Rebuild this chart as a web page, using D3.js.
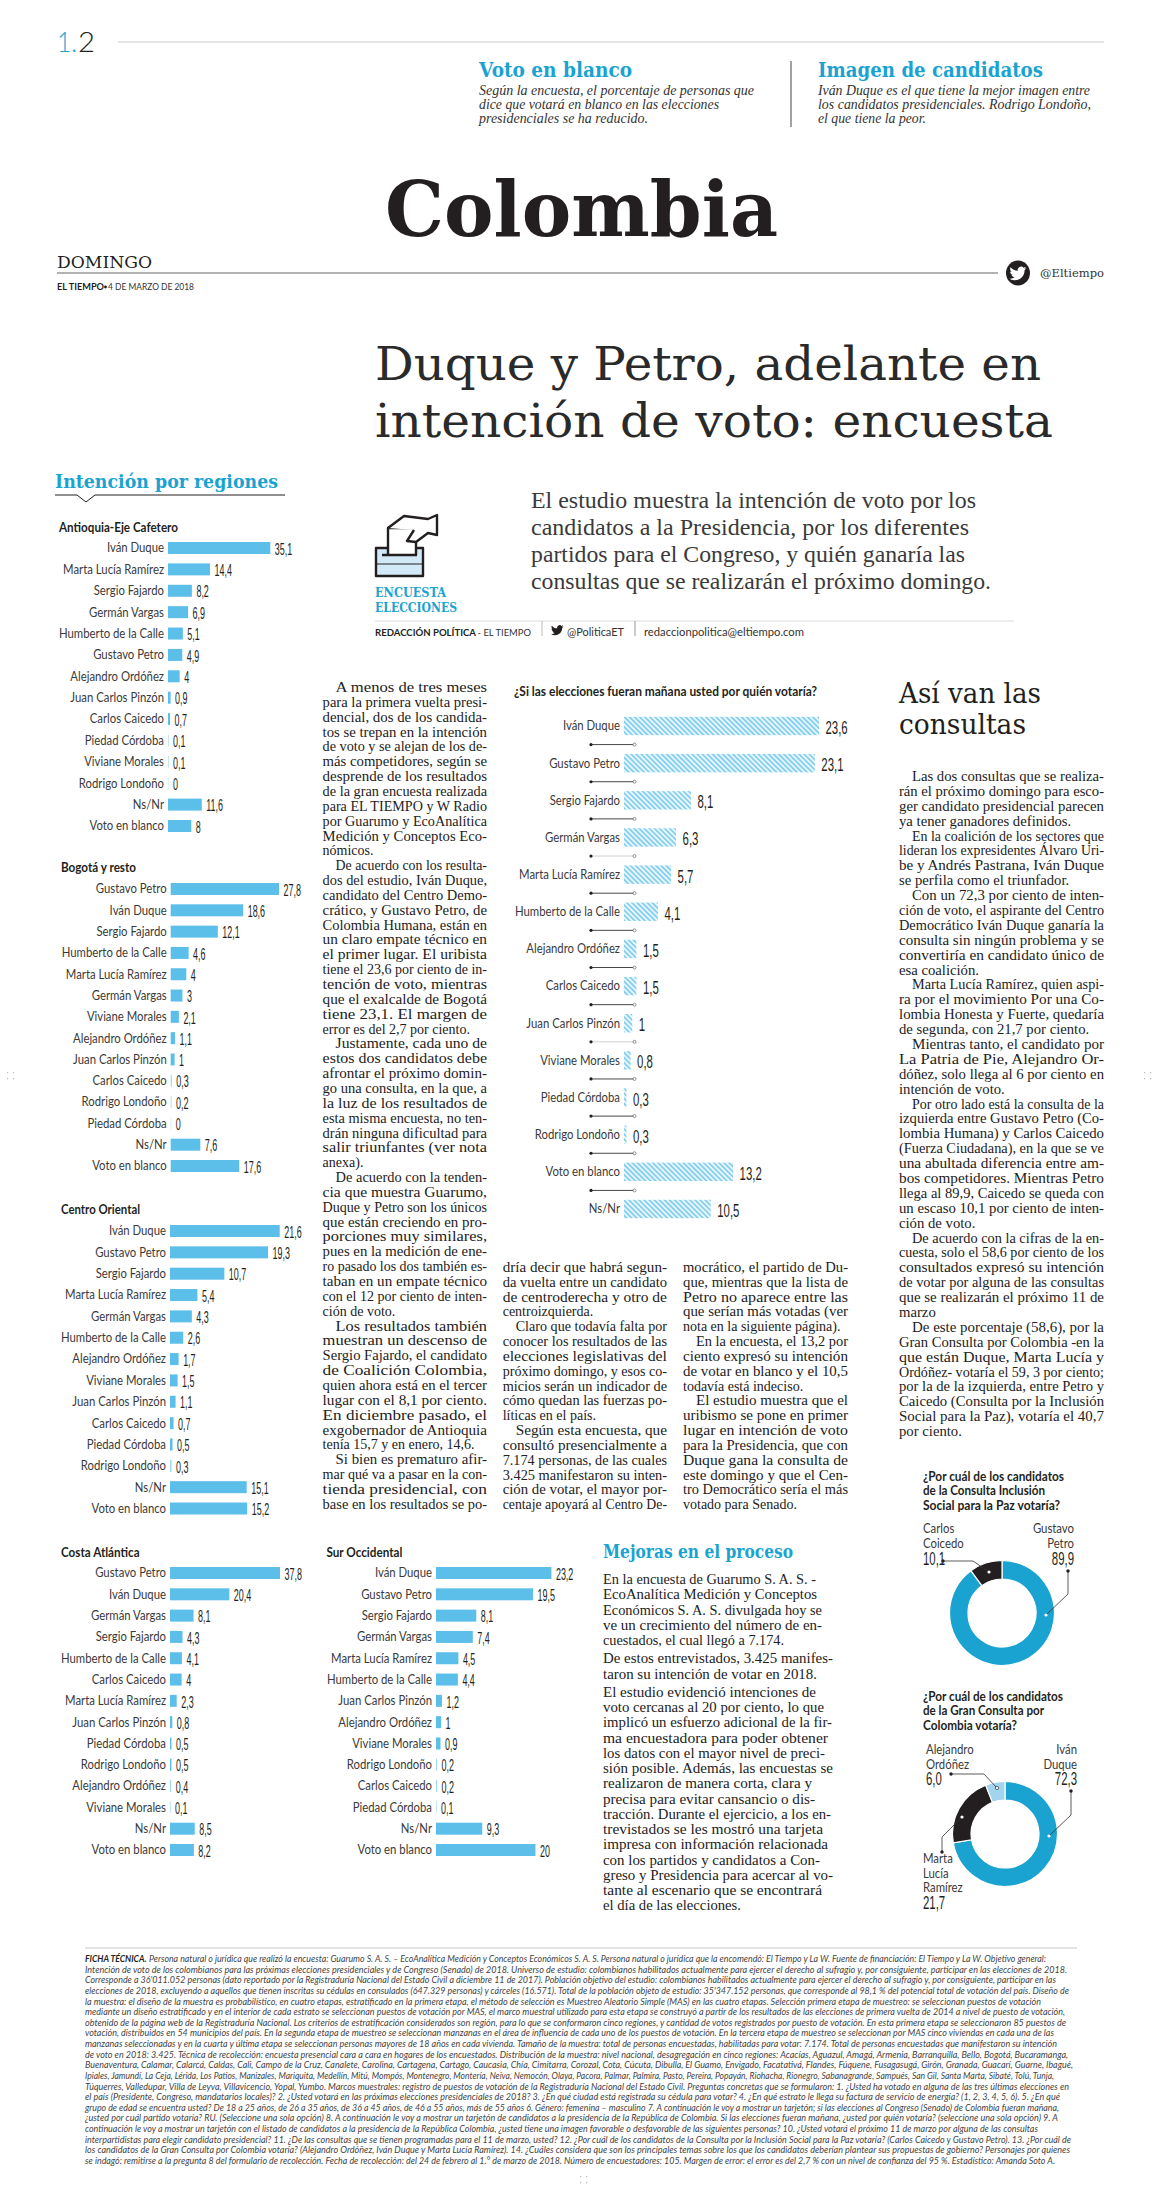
<!DOCTYPE html>
<html lang="es"><head><meta charset="utf-8"><title>Colombia</title>
<script src="https://cdn.jsdelivr.net/npm/d3@7/dist/d3.min.js"></script>
<style>html,body{margin:0;padding:0;background:#fff}svg{display:block}</style>
</head><body><div id="page"></div>
<script>
// ---------- DATA ----------
const antioquiaNames=["Iván Duque","Marta Lucía Ramírez","Sergio Fajardo","Germán Vargas","Humberto de la Calle","Gustavo Petro","Alejandro Ordóñez","Juan Carlos Pinzón","Carlos Caicedo","Piedad Córdoba","Viviane Morales","Rodrigo Londoño","Ns/Nr","Voto en blanco"];
const antioquiaValues=[35.1,14.4,8.2,6.9,5.1,4.9,4,0.9,0.7,0.1,0.1,0,11.6,8];
const bogotaNames=["Gustavo Petro","Iván Duque","Sergio Fajardo","Humberto de la Calle","Marta Lucía Ramírez","Germán Vargas","Viviane Morales","Alejandro Ordóñez","Juan Carlos Pinzón","Carlos Caicedo","Rodrigo Londoño","Piedad Córdoba","Ns/Nr","Voto en blanco"];
const bogotaValues=[27.8,18.6,12.1,4.6,4,3,2.1,1.1,1,0.3,0.2,0,7.6,17.6];
const orientalNames=["Iván Duque","Gustavo Petro","Sergio Fajardo","Marta Lucía Ramírez","Germán Vargas","Humberto de la Calle","Alejandro Ordóñez","Viviane Morales","Juan Carlos Pinzón","Carlos Caicedo","Piedad Córdoba","Rodrigo Londoño","Ns/Nr","Voto en blanco"];
const orientalValues=[21.6,19.3,10.7,5.4,4.3,2.6,1.7,1.5,1.1,0.7,0.5,0.3,15.1,15.2];
const costaNames=["Gustavo Petro","Iván Duque","Germán Vargas","Sergio Fajardo","Humberto de la Calle","Carlos Caicedo","Marta Lucía Ramírez","Juan Carlos Pinzón","Piedad Córdoba","Rodrigo Londoño","Alejandro Ordóñez","Viviane Morales","Ns/Nr","Voto en blanco"];
const costaValues=[37.8,20.4,8.1,4.3,4.1,4,2.3,0.8,0.5,0.5,0.4,0.1,8.5,8.2];
const surNames=["Iván Duque","Gustavo Petro","Sergio Fajardo","Germán Vargas","Marta Lucía Ramírez","Humberto de la Calle","Juan Carlos Pinzón","Alejandro Ordóñez","Viviane Morales","Rodrigo Londoño","Carlos Caicedo","Piedad Córdoba","Ns/Nr","Voto en blanco"];
const surValues=[23.2,19.5,8.1,7.4,4.5,4.4,1.2,1,0.9,0.2,0.2,0.1,9.3,20];
const nationalNames=["Iván Duque","Gustavo Petro","Sergio Fajardo","Germán Vargas","Marta Lucía Ramírez","Humberto de la Calle","Alejandro Ordóñez","Carlos Caicedo","Juan Carlos Pinzón","Viviane Morales","Piedad Córdoba","Rodrigo Londoño","Voto en blanco","Ns/Nr"];
const nationalValues=[23.6,23.1,8.1,6.3,5.7,4.1,1.5,1.5,1,0.8,0.3,0.3,13.2,10.5];
const inclusionNames=["Gustavo Petro","Carlos Caicedo"];
const inclusionValues=[89.9,10.1];
const granConsultaNames=["Iván Duque","Marta Lucía Ramírez","Alejandro Ordóñez"];
const granConsultaValues=[72.3,21.7,6.0];

const columnOne=["\tA menos de tres meses","para la primera vuelta presi-","dencial, dos de los candida-","tos se trepan en la intención","de voto y se alejan de los de-","más competidores, según se","desprende de los resultados","de la gran encuesta realizada","para EL TIEMPO y W Radio","por Guarumo y EcoAnalítica","Medición y Conceptos Eco-","nómicos.\n",
"\tDe acuerdo con los resulta-","dos del estudio, Iván Duque,","candidato del Centro Demo-","crático, y Gustavo Petro, de","Colombia Humana, están en","un claro empate técnico en","el primer lugar. El uribista","tiene el 23,6 por ciento de in-","tención de voto, mientras","que el exalcalde de Bogotá","tiene 23,1. El margen de","error es del 2,7 por ciento.\n",
"\tJustamente, cada uno de","estos dos candidatos debe","afrontar el próximo domin-","go una consulta, en la que, a","la luz de los resultados de","esta misma encuesta, no ten-","drán ninguna dificultad para","salir triunfantes (ver nota","anexa).\n",
"\tDe acuerdo con la tenden-","cia que muestra Guarumo,","Duque y Petro son los únicos","que están creciendo en pro-","porciones muy similares,","pues en la medición de ene-","ro pasado los dos también es-","taban en un empate técnico","con el 12 por ciento de inten-","ción de voto.\n",
"\tLos resultados también","muestran un descenso de","Sergio Fajardo, el candidato","de Coalición Colombia,","quien ahora está en el tercer","lugar con el 8,1 por ciento.","En diciembre pasado, el","exgobernador de Antioquia","tenía 15,7 y en enero, 14,6.\n",
"\tSi bien es prematuro afir-","mar qué va a pasar en la con-","tienda presidencial, con","base en los resultados se po-"];
const columnTwo=["dría decir que habrá segun-","da vuelta entre un candidato","de centroderecha y otro de","centroizquierda.\n","\tClaro que todavía falta por","conocer los resultados de las","elecciones legislativas del","próximo domingo, y esos co-","micios serán un indicador de","cómo quedan las fuerzas po-","líticas en el país.\n","\tSegún esta encuesta, que","consultó presencialmente a","7.174 personas, de las cuales","3.425 manifestaron su inten-","ción de votar, el mayor por-","centaje apoyará al Centro De-"];
const columnThree=["mocrático, el partido de Du-","que, mientras que la lista de","Petro no aparece entre las","que serían más votadas (ver","nota en la siguiente página).\n","\tEn la encuesta, el 13,2 por","ciento expresó su intención","de votar en blanco y el 10,5","todavía está indeciso.\n","\tEl estudio muestra que el","uribismo se pone en primer","lugar en intención de voto","para la Presidencia, que con","Duque gana la consulta de","este domingo y que el Cen-","tro Democrático sería el más","votado para Senado.\n"];
const consultasText=["\tLas dos consultas que se realiza-","rán el próximo domingo para esco-","ger candidato presidencial parecen","ya tener ganadores definidos.\n","\tEn la coalición de los sectores que","lideran los expresidentes Álvaro Uri-","be y Andrés Pastrana, Iván Duque","se perfila como el triunfador.\n","\tCon un 72,3 por ciento de inten-","ción de voto, el aspirante del Centro","Democrático Iván Duque ganaría la","consulta sin ningún problema y se","convertiría en candidato único de","esa coalición.\n","\tMarta Lucía Ramírez, quien aspi-","ra por el movimiento Por una Co-","lombia Honesta y Fuerte, quedaría","de segunda, con 21,7 por ciento.\n","\tMientras tanto, el candidato por","La Patria de Pie, Alejandro Or-","dóñez, solo llega al 6 por ciento en","intención de voto.\n","\tPor otro lado está la consulta de la","izquierda entre Gustavo Petro (Co-","lombia Humana) y Carlos Caicedo","(Fuerza Ciudadana), en la que se ve","una abultada diferencia entre am-","bos competidores. Mientras Petro","llega al 89,9, Caicedo se queda con","un escaso 10,1 por ciento de inten-","ción de voto.\n","\tDe acuerdo con la cifras de la en-","cuesta, solo el 58,6 por ciento de los","consultados expresó su intención","de votar por alguna de las consultas","que se realizarán el próximo 11 de","marzo\n","\tDe este porcentaje (58,6), por la","Gran Consulta por Colombia -en la","que están Duque, Marta Lucía y","Ordóñez- votaría el 59, 3 por ciento;","por la de la izquierda, entre Petro y","Caicedo (Consulta por la Inclusión","Social para la Paz), votaría el 40,7","por ciento.\n"];
const mejorasText=["En la encuesta de Guarumo S. A. S. -","EcoAnalítica Medición y Conceptos","Económicos S. A. S. divulgada hoy se","ve un crecimiento del número de en-","cuestados, el cual llegó a 7.174.","De estos entrevistados, 3.425 manifes-","taron su intención de votar en 2018.","El estudio evidenció intenciones de","voto cercanas al 20 por ciento, lo que","implicó un esfuerzo adicional de la fir-","ma encuestadora para poder obtener","los datos con el mayor nivel de preci-","sión posible. Además, las encuestas se","realizaron de manera corta, clara y","precisa para evitar cansancio o dis-","tracción. Durante el ejercicio, a los en-","trevistados se les mostró una tarjeta","impresa con información relacionada","con los partidos y candidatos a Con-","greso y Presidencia para acercar al vo-","tante al escenario que se encontrará","el día de las elecciones."];
const fichaText=["Persona natural o jurídica que realizó la encuesta: Guarumo S. A. S. – EcoAnalítica Medición y Conceptos Económicos S. A. S. Persona natural o jurídica que la encomendó: El Tiempo y La W. Fuente de financiación: El Tiempo y La W. Objetivo general:",
"Intención de voto de los colombianos para las próximas elecciones presidenciales y de Congreso (Senado) de 2018. Universo de estudio: colombianos habilitados actualmente para ejercer el derecho al sufragio y, por consiguiente, participar en las elecciones de 2018.",
"Corresponde a 36'011.052 personas (dato reportado por la Registraduría Nacional del Estado Civil a diciembre 11 de 2017). Población objetivo del estudio: colombianos habilitados actualmente para ejercer el derecho al sufragio y, por consiguiente, participar en las",
"elecciones de 2018, excluyendo a aquellos que tienen inscritas su cédulas en consulados (647.329 personas) y cárceles (16.571). Total de la población objeto de estudio: 35'347.152 personas, que corresponde al 98,1 % del potencial total de votación del país. Diseño de",
"la muestra: el diseño de la muestra es probabilístico, en cuatro etapas, estratificado en la primera etapa, el método de selección es Muestreo Aleatorio Simple (MAS) en las cuatro etapas. Selección primera etapa de muestreo: se seleccionan puestos de votación",
"mediante un diseño estratificado y en el interior de cada estrato se seleccionan puestos de votación por MAS, el marco muestral utilizado para esta etapa se construyó a partir de los resultados de las elecciones de primera vuelta de 2014 a nivel de puesto de votación,",
"obtenido de la página web de la Registraduría Nacional. Los criterios de estratificación considerados son región, para lo que se conformaron cinco regiones, y cantidad de votos registrados por puesto de votación. En esta primera etapa se seleccionaron 85 puestos de",
"votación, distribuidos en 54 municipios del país. En la segunda etapa de muestreo se seleccionan manzanas en el área de influencia de cada uno de los puestos de votación. En la tercera etapa de muestreo se seleccionan por MAS cinco viviendas en cada una de las",
"manzanas seleccionadas y en la cuarta y última etapa se seleccionan personas mayores de 18 años en cada vivienda. Tamaño de la muestra: total de personas encuestadas, habilitadas para votar: 7.174. Total de personas encuestadas que manifestaron su intención",
"de voto en 2018: 3.425. Técnica de recolección: encuesta presencial cara a cara en hogares de los encuestados. Distribución de la muestra: nivel nacional, desagregación en cinco regiones: Acacías, Aguazul, Amagá, Armenia, Barranquilla, Bello, Bogotá, Bucaramanga,",
"Buenaventura, Calamar, Calarcá, Caldas, Cali, Campo de la Cruz, Canalete, Carolina, Cartagena, Cartago, Caucasia, Chía, Cimitarra, Corozal, Cota, Cúcuta, Dibulla, El Guamo, Envigado, Facatativá, Flandes, Fúquene, Fusagasugá, Girón, Granada, Guacarí, Guarne, Ibagué,",
"Ipiales, Jamundí, La Ceja, Lérida, Los Patios, Manizales, Mariquita, Medellín, Mitú, Mompós, Montenegro, Montería, Neiva, Nemocón, Olaya, Pacora, Palmar, Palmira, Pasto, Pereira, Popayán, Riohacha, Rionegro, Sabanagrande, Sampués, San Gil, Santa Marta, Sibaté, Tolú, Tunja,",
"Túquerres, Valledupar, Villa de Leyva, Villavicencio, Yopal, Yumbo. Marcos muestrales: registro de puestos de votación de la Registraduría Nacional del Estado Civil. Preguntas concretas que se formularon: 1. ¿Usted ha votado en alguna de las tres últimas elecciones en",
"el país (Presidente, Congreso, mandatarios locales)? 2. ¿Usted votará en las próximas elecciones presidenciales de 2018? 3. ¿En qué ciudad está registrada su cédula para votar? 4. ¿En qué estrato le llega su factura de servicio de energía? (1, 2, 3, 4, 5, 6). 5. ¿En qué",
"grupo de edad se encuentra usted? De 18 a 25 años, de 26 a 35 años, de 36 a 45 años, de 46 a 55 años, más de 55 años 6. Género: femenina – masculino 7. A continuación le voy a mostrar un tarjetón; si las elecciones al Congreso (Senado) de Colombia fueran mañana,",
"¿usted por cuál partido votaría? RU. (Seleccione una sola opción) 8. A continuación le voy a mostrar un tarjetón de candidatos a la presidencia de la República de Colombia. Si las elecciones fueran mañana, ¿usted por quién votaría? (seleccione una sola opción) 9. A",
"continuación le voy a mostrar un tarjetón con el listado de candidatos a la presidencia de la República Colombia, ¿usted tiene una imagen favorable o desfavorable de las siguientes personas? 10. ¿Usted votará el próximo 11 de marzo por alguna de las consultas",
"interpartidistas para elegir candidato presidencial? 11. ¿De las consultas que se tienen programadas para el 11 de marzo, usted? 12. ¿Por cuál de los candidatos de la Consulta por la Inclusión Social para la Paz votaría? (Carlos Caicedo y Gustavo Petro). 13. ¿Por cuál de",
"los candidatos de la Gran Consulta por Colombia votaría? (Alejandro Ordóñez, Iván Duque y Marta Lucía Ramírez). 14. ¿Cuáles considera que son los principales temas sobre los que los candidatos deberían plantear sus propuestas de gobierno? Personajes por quienes",
"se indagó: remitirse a la pregunta 8 del formulario de recolección. Fecha de recolección: del 24 de febrero al 1.° de marzo de 2018. Número de encuestadores: 105. Margen de error: el error es del 2,7 % con un nivel de confianza del 95 %. Estadístico: Amanda Soto A."];

// ---------- LAYOUT ----------
const mejorasEnds=[816,817,822,822,784,833,817,816,824,832,828,825,833,812,815,831,823,828,820,833,822,741];
const mejorasBreaks=[5,7];
const fichaEnds=[1046,1067,1056,1069,1041,1065,1066,1054,1057,1068,1073,1054,1069,1060,1059,1058,1038,1071,1070,1055];
const BLUE="#1aa3d1",BAR="#5bbfea",INK="#231f20",TEXT="#3a3a3a";
const SERIF="'Liberation Serif',serif",SLAB="'DejaVu Serif',serif",SANS="Lato,'Noto Sans',sans-serif",NARROW="'Liberation Sans Narrow','Liberation Sans',sans-serif";
const W=1161,H=2201;
const svg=d3.select("#page").append("svg").attr("width",W).attr("height",H).attr("viewBox",`0 0 ${W} ${H}`);
const defs=svg.append("defs");
const hatch=defs.append("pattern").attr("id","hatch").attr("patternUnits","userSpaceOnUse").attr("width",3.6).attr("height",3.6).attr("patternTransform","rotate(-45)");
hatch.append("rect").attr("width",3.6).attr("height",3.6).attr("fill","#eef8fc");
hatch.append("rect").attr("width",1.9).attr("height",3.6).attr("fill","#86d0ee");

function put(o){
  const t=(o.parent||svg).append("text").attr("x",o.x).attr("y",o.y).text(o.text)
    .attr("font-family",o.font||SERIF).attr("font-size",o.size).attr("fill",o.fill||INK);
  if(o.weight)t.attr("font-weight",o.weight);
  if(o.style)t.attr("font-style",o.style);
  if(o.anchor)t.attr("text-anchor",o.anchor);
  if(o.w)t.attr("textLength",o.w).attr("lengthAdjust","spacingAndGlyphs");
  else if(o.ratio)t.attr("textLength",t.node().getComputedTextLength()*o.ratio).attr("lengthAdjust","spacingAndGlyphs");
  return t;
}
function hline(x1,x2,y,c,w){svg.append("line").attr("x1",x1).attr("x2",x2).attr("y1",y).attr("y2",y).attr("stroke",c).attr("stroke-width",w);}
function vline(x,y1,y2,c,w){svg.append("line").attr("x1",x).attr("x2",x).attr("y1",y1).attr("y2",y2).attr("stroke",c).attr("stroke-width",w);}
const BIRD="M23.953 4.57a10 10 0 01-2.825.775 4.958 4.958 0 002.163-2.723c-.951.555-2.005.959-3.127 1.184a4.92 4.92 0 00-8.384 4.482C7.69 8.095 4.067 6.13 1.64 3.162a4.822 4.822 0 00-.666 2.475c0 1.71.87 3.213 2.188 4.096a4.904 4.904 0 01-2.228-.616v.06a4.923 4.923 0 003.946 4.827 4.996 4.996 0 01-2.212.085 4.936 4.936 0 004.604 3.417 9.867 9.867 0 01-6.102 2.105c-.39 0-.779-.023-1.17-.067a13.995 13.995 0 007.557 2.209c9.053 0 13.998-7.496 13.998-13.985 0-.21 0-.42-.015-.63A9.935 9.935 0 0024 4.59z";

// ---------- HEADER ----------
put({x:57,y:52,text:"1.",font:SANS,weight:300,size:27,fill:BLUE,w:20});
put({x:78,y:52,text:"2",font:SANS,weight:300,size:27,fill:INK,w:17});
hline(118,1104,42,"#ddd",1.5);
put({x:479,y:77,text:"Voto en blanco",font:SLAB,weight:700,size:20,fill:BLUE,w:153});
put({x:818,y:77,text:"Imagen de candidatos",font:SLAB,weight:700,size:20,fill:BLUE,w:225});
[["Según la encuesta, el porcentaje de personas que",754],["dice que votará en blanco en las elecciones",719],["presidenciales se ha reducido.",648]].forEach((d,i)=>put({x:479,y:95+i*14,text:d[0],size:14,style:"italic",fill:"#333",w:d[1]-479}));
[["Iván Duque es el que tiene la mejor imagen entre",1090],["los candidatos presidenciales. Rodrigo Londoño,",1091],["el que tiene la peor.",926]].forEach((d,i)=>put({x:818,y:95+i*14,text:d[0],size:14,style:"italic",fill:"#333",w:d[1]-818}));
vline(791,61,127,"#444",1);
put({x:385,y:236,text:"Colombia",font:SLAB,weight:700,size:77,fill:INK,w:393});
put({x:57,y:268,text:"DOMINGO",font:SLAB,size:16,fill:INK,w:95});
hline(57,998,273,"#999",1.3);
put({x:57,y:290,text:"EL TIEMPO",font:SANS,weight:700,size:9.5,fill:INK,w:47});
svg.append("circle").attr("cx",105.5).attr("cy",287).attr("r",1.4).attr("fill",INK);
put({x:108,y:290,text:"4 DE MARZO DE 2018",font:SANS,size:9.5,fill:"#333",w:86});
svg.append("ellipse").attr("cx",1018).attr("cy",273).attr("rx",12).attr("ry",12.5).attr("fill",INK);
svg.append("path").attr("d",BIRD).attr("fill","#fff").attr("transform","translate(1009.5,265) scale(0.7)");
put({x:1040,y:277,text:"@Eltiempo",font:SLAB,size:11.5,fill:"#333",w:64});
put({x:375,y:380,text:"Duque y Petro, adelante en",font:SLAB,size:47,fill:"#2a2a2a",w:666});
put({x:375,y:437,text:"intención de voto: encuesta",font:SLAB,size:47,fill:"#2a2a2a",w:678});

// ---------- INTRO ----------
const icon=svg.append("g").attr("fill","none").attr("stroke",INK).attr("stroke-width",2.4).attr("stroke-linejoin","round");
icon.append("rect").attr("x",376).attr("y",548).attr("width",47).attr("height",28).attr("fill","#d2eaf7");
icon.append("path").attr("d","M376 564H423").attr("stroke-width",1);
icon.append("path").attr("d","M388 555V528H416V555").attr("fill","#fff");
icon.append("path").attr("d","M382 555H417");
icon.append("path").attr("d","M388 528L404 516L428 519L437 515V535L428 533L416 542L407 541L414 530").attr("fill","#fff");
put({x:375,y:597,text:"ENCUESTA",font:SLAB,weight:700,size:12,fill:BLUE,w:71});
put({x:375,y:612,text:"ELECCIONES",font:SLAB,weight:700,size:12,fill:BLUE,w:82});
[["El estudio muestra la intención de voto por los",976],["candidatos a la Presidencia, por los diferentes",969],["partidos para el Congreso, y quién ganaría las",965],["consultas que se realizarán el próximo domingo.",991]].forEach((d,i)=>put({x:531,y:508+i*27,text:d[0],size:24,fill:"#3a3a3a",w:d[1]-531}));
hline(375,1014,621,"#ddd",1);
put({x:375,y:636,text:"REDACCIÓN POLÍTICA",font:SANS,weight:700,size:9.5,fill:INK,w:101});
put({x:477.5,y:636,text:"- EL TIEMPO",font:SANS,size:9.5,fill:"#333",w:53.5});
vline(542,621,636,"#bbb",1);
svg.append("path").attr("d",BIRD).attr("fill",INK).attr("transform","translate(551,624) scale(0.52)");
put({x:567,y:636,text:"@PoliticaET",font:SANS,size:10.5,fill:"#333",w:57});
vline(635,621,636,"#999",1);
put({x:644,y:636,text:"redaccionpolitica@eltiempo.com",font:SANS,size:10.5,fill:"#333",w:160});

// ---------- BAR CHARTS ----------
const probe=put({x:-999,y:-99,text:"Humberto de la Calle",font:SANS,size:13});
const LABEL_RATIO=105/probe.node().getComputedTextLength();probe.remove();

function barChart(cfg){
  const g=svg.append("g").attr("transform",`translate(${cfg.x0},0)`);
  const x=d3.scaleLinear().domain([0,d3.max(cfg.values)]).range([0,cfg.maxW]);
  const y=d3.scalePoint().domain(cfg.names).range([cfg.first,cfg.last]);
  const axis=g.append("g").call(d3.axisLeft(y).tickSize(0).tickPadding(cfg.pad));
  axis.select(".domain").remove();
  axis.selectAll("text").attr("font-family",SANS).attr("font-size",13).attr("fill",TEXT).attr("dy","0.3em")
    .each(function(){const n=this.getComputedTextLength();d3.select(this).attr("textLength",n*LABEL_RATIO).attr("lengthAdjust","spacingAndGlyphs");});
  const rows=cfg.names.map((n,i)=>({n,v:cfg.values[i]}));
  g.selectAll("rect.bar").data(rows).join("rect").attr("class","bar")
    .attr("x",0).attr("y",d=>y(d.n)-cfg.barH/2).attr("height",cfg.barH)
    .attr("width",d=>Math.max(x(d.v),0.6))
    .attr("fill",d=>cfg.fill).attr("fill-opacity",d=>d.v<0.5&&!cfg.hatched?(d.v===0?0.35:0.6):1);
  g.selectAll("text.val").data(rows).join("text").attr("class","val")
    .attr("x",d=>Math.max(x(d.v),0.6)+cfg.gap).attr("y",d=>y(d.n)).attr("dy","0.42em")
    .attr("font-family",NARROW).attr("font-size",cfg.valSize).attr("fill",INK)
    .text(d=>String(d.v).replace(".",","))
    .each(function(){const n=this.getComputedTextLength();d3.select(this).attr("textLength",n*cfg.valRatio).attr("lengthAdjust","spacingAndGlyphs");});
  return {x,y,g};
}
put({x:55,y:488,text:"Intención por regiones",font:SLAB,weight:700,size:19,fill:BLUE,w:223});
svg.append("path").attr("d","M55 495H77L86 502L95 495H285").attr("fill","none").attr("stroke",INK).attr("stroke-width",1);
const regional=[
 {title:"Antioquia-Eje Cafetero",tx:59,ty:532,tw:119,names:antioquiaNames,values:antioquiaValues,x0:168,first:548,last:826,maxW:102.3},
 {title:"Bogotá y resto",tx:61,ty:872,tw:75,names:bogotaNames,values:bogotaValues,x0:170.7,first:889,last:1166,maxW:108.3},
 {title:"Centro Oriental",tx:61,ty:1214,tw:79,names:orientalNames,values:orientalValues,x0:170,first:1231,last:1508.5,maxW:109.7},
 {title:"Costa Atlántica",tx:61,ty:1557,tw:78.6,names:costaNames,values:costaValues,x0:170,first:1573,last:1850,maxW:110},
 {title:"Sur Occidental",tx:326.4,ty:1557,tw:76,names:surNames,values:surValues,x0:436,first:1573,last:1850,maxW:115.4}
];
regional.forEach(r=>{
  put({x:r.tx,y:r.ty,text:r.title,font:SANS,weight:700,size:13,fill:INK,w:r.tw});
  barChart(Object.assign({},r,{barH:12,pad:4,gap:4.5,valSize:16,valRatio:0.56,fill:BAR}));
});
put({x:514,y:696,text:"¿Si las elecciones fueran mañana usted por quién votaría?",font:SANS,weight:700,size:13,fill:INK,w:303});
const main=barChart({names:nationalNames,values:nationalValues,x0:624,first:726,last:1209,maxW:195,barH:18.4,pad:4,gap:6.5,valSize:19,valRatio:0.6,fill:"url(#hatch)",hatched:true});
const links=d3.pairs(nationalNames);
const link=svg.append("g").selectAll("g").data(links).join("g");
link.append("line").attr("x1",591).attr("x2",634.5).attr("y1",d=>(main.y(d[0])+main.y(d[1]))/2).attr("y2",d=>(main.y(d[0])+main.y(d[1]))/2)
  .attr("stroke",(d,i)=>(i===3||i===8)?"#ccc":"#333").attr("stroke-width",0.9);
link.append("circle").attr("cx",591).attr("cy",d=>(main.y(d[0])+main.y(d[1]))/2).attr("r",1.6).attr("fill",INK);
link.append("circle").attr("cx",634.5).attr("cy",d=>(main.y(d[0])+main.y(d[1]))/2).attr("r",1.5).attr("fill","#fff").attr("stroke","#666").attr("stroke-width",0.7);

// ---------- TEXT COLUMNS ----------
function column(lines,x,width,y0,step,size,ratio){
  lines.forEach((raw,i)=>{
    const indent=raw.startsWith("\t")?13:0,last=raw.endsWith("\n"),text=raw.trim();
    const t=put({x:x+indent,y:y0+i*step,text,size,fill:"#222"});
    if(last)t.attr("textLength",t.node().getComputedTextLength()*ratio).attr("lengthAdjust","spacingAndGlyphs");
    else t.attr("textLength",width-indent).attr("lengthAdjust","spacingAndGlyphs");
  });
}
column(columnOne,322.6,164.4,692,14.85,14,1);
column(columnTwo,502.7,164.3,1272,14.83,14,1);
column(columnThree,683,165,1272,14.83,14,1);
put({x:899,y:703,text:"Así van las",font:SLAB,size:28,fill:INK,w:142});
put({x:899,y:734,text:"consultas",font:SLAB,size:28,fill:INK,w:127});
column(consultasText,899,205,781,14.89,14,1.05);
put({x:603,y:1558,text:"Mejoras en el proceso",font:SLAB,weight:700,size:18,fill:BLUE,w:190});
(function(){let y=1584;mejorasText.forEach((s,i)=>{
  if(mejorasBreaks.includes(i))y+=3;
  put({x:603,y,text:s,size:14,fill:"#222",w:mejorasEnds[i]-603});y+=15.25;
});})();

// ---------- DONUTS ----------
const arc=d3.arc().innerRadius(34).outerRadius(52.5);
const pie=d3.pie().sort(null);
const DONUT=[BLUE,INK,"#a3d4ee"];
function donut(cx,cy,values){
  const g=svg.append("g").attr("transform",`translate(${cx},${cy})`);
  g.selectAll("path").data(pie(values)).join("path").attr("d",arc).attr("fill",(d,i)=>DONUT[i]).attr("stroke","#fff").attr("stroke-width",1.2);
}
function leader(pts,to){
  svg.append("path").attr("d",d3.line()(pts)).attr("fill","none").attr("stroke","#333").attr("stroke-width",0.8);
  const a=pts[0],b=pts[pts.length-1];
  svg.append("circle").attr("cx",a[0]).attr("cy",a[1]).attr("r",1.7).attr("fill",INK);
  svg.append("circle").attr("cx",b[0]).attr("cy",b[1]).attr("r",1.6).attr("fill","#fff").attr("stroke",to||"none").attr("stroke-width",0.7);
}
function stack(lines,x,y0,anchor,value,vy){
  lines.forEach((s,i)=>put({x,y:y0+i*14.5,text:s,font:SANS,size:13,fill:TEXT,anchor,ratio:LABEL_RATIO}));
  put({x,y:vy,text:value,font:NARROW,size:19,fill:INK,anchor,ratio:0.6});
}
const fmt=v=>d3.format(".1f")(v).replace(".",",");
[["¿Por cuál de los candidatos",141],["de la Consulta Inclusión",122],["Social para la Paz votaría?",137]].forEach((d,i)=>put({x:923,y:1481+i*14.4,text:d[0],font:SANS,weight:700,size:13,fill:INK,w:d[1]}));
donut(1002,1613,inclusionValues);
stack(["Carlos","Coicedo"],923,1533,"start",fmt(inclusionValues[1]),1565);
stack(["Gustavo","Petro"],1074,1533,"end",fmt(inclusionValues[0]),1565);
leader([[943,1561],[973,1561],[989,1572]]);
leader([[1068,1571],[1068,1594],[1046,1615]]);
[["¿Por cuál de los candidatos",140],["de la Gran Consulta por",121],["Colombia votaría?",94]].forEach((d,i)=>put({x:923,y:1701+i*14.4,text:d[0],font:SANS,weight:700,size:13,fill:INK,w:d[1]}));
donut(1005,1834,granConsultaValues);
stack(["Alejandro","Ordóñez"],926,1754,"start",fmt(granConsultaValues[2]),1785);
stack(["Iván","Duque"],1077,1754,"end",fmt(granConsultaValues[0]),1785);
stack(["Marta","Lucía","Ramírez"],923,1863,"start",fmt(granConsultaValues[1]),1909);
leader([[1071,1791],[1071,1815],[1049,1836]]);
leader([[951,1774],[984,1774],[997,1788]],"#333");
leader([[942,1852],[942,1837],[962,1817]]);

// ---------- FICHA ----------
hline(85,1077,1948,"#e4e4e4",2);
put({x:85,y:1962,text:"FICHA TÉCNICA.",font:SANS,weight:700,style:"italic",size:9,fill:INK,w:61.5});
fichaText.forEach((s,i)=>{const x=i===0?149:85;
  put({x,y:1962+i*10.63,text:s,font:SANS,style:"italic",size:9,fill:"#444",w:fichaEnds[i]-x});});

// ---------- PRINT MARKS ----------
[[10,1075],[1147,1075],[583,2179]].forEach(p=>{
  const g=svg.append("g").attr("transform",`translate(${p[0]},${p[1]})`).attr("fill","#bbb");
  [[-3,-3],[3,-3],[-3,3],[3,3]].forEach(q=>g.append("rect").attr("x",q[0]).attr("y",q[1]).attr("width",1.2).attr("height",1.2));
});
</script></body></html>
